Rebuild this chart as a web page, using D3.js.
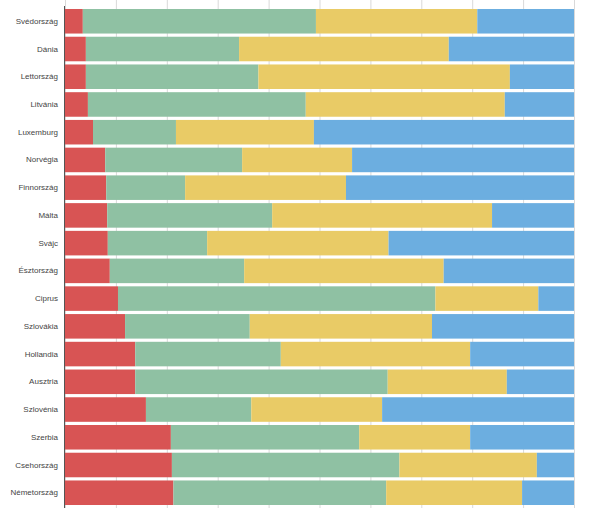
<!DOCTYPE html>
<html>
<head>
<meta charset="utf-8">
<script src="https://cdn.jsdelivr.net/npm/d3@7"></script>
<style>
  html, body { margin: 0; padding: 0; background: #fff; }
  svg { display: block; }
</style>
</head>
<body>
<div id="chart"></div>
<script>
const categories = ["Svédország","Dánia","Lettország","Litvánia","Luxemburg","Norvégia","Finnország","Málta","Svájc","Észtország","Ciprus","Szlovákia","Hollandia","Ausztria","Szlovénia","Szerbia","Csehország","Németország"];
const seriesNames = ["A","B","C","D"];
const seriesRed    = [3.5, 4.1, 4.1, 4.5, 5.5, 7.9, 8.1, 8.3, 8.4, 8.8, 10.4, 11.8, 13.8, 13.8, 15.9, 20.8, 21.0, 21.3];
const seriesGreen  = [45.8, 30.1, 33.9, 42.8, 16.3, 26.9, 15.5, 32.4, 19.5, 26.4, 62.3, 24.5, 28.6, 49.6, 20.7, 37.0, 44.7, 41.8];
const seriesYellow = [31.7, 41.2, 49.4, 39.1, 27.1, 21.6, 31.6, 43.2, 35.6, 39.2, 20.2, 35.8, 37.2, 23.4, 25.7, 21.8, 27.0, 26.7];
const seriesBlue   = [19.0, 24.6, 12.6, 13.6, 51.1, 43.6, 44.8, 16.1, 36.4, 25.6, 7.0, 27.9, 20.4, 13.2, 37.7, 20.4, 7.3, 10.2];
const xTicks = [0,10,20,30,40,50,60,70,80,90,100];
const colors = ["#d85454", "#8fc1a3", "#e9cb66", "#6caee0"];

(function () {
const W = 607, H = 508;
const mLeft = 65, mRight = 574, mTop = 7.4, mBottom = 506.6;

const rows = categories.map((c, i) => {
  const vals = [seriesRed[i], seriesGreen[i], seriesYellow[i], seriesBlue[i]];
  const total = d3.sum(vals);
  const o = { cat: c };
  seriesNames.forEach((s, j) => o[s] = vals[j] / total * 100);
  return o;
});

const stack = d3.stack().keys(seriesNames)(rows);

const x = d3.scaleLinear().domain([0, 100]).range([mLeft, mRight]);
const y = d3.scaleBand().domain(categories).range([mTop, mBottom]).paddingInner(0.115).paddingOuter(0.0575);

const svg = d3.select("#chart").append("svg").attr("width", W).attr("height", H);

// gridlines
svg.append("g").selectAll("line").data(xTicks).join("line")
  .attr("x1", d => x(d) + 0.5).attr("x2", d => x(d) + 0.5)
  .attr("y1", 0).attr("y2", H)
  .attr("stroke", "#d9d9d9").attr("stroke-width", 1);

// bars
svg.append("g").selectAll("g").data(stack).join("g")
  .attr("fill", (d, i) => colors[i])
  .selectAll("rect").data(d => d).join("rect")
  .attr("x", d => x(d[0]))
  .attr("width", d => x(d[1]) - x(d[0]))
  .attr("y", d => y(d.data.cat))
  .attr("height", y.bandwidth());

// left axis
const yAxis = d3.axisLeft(y).tickSize(0).tickPadding(7);
const ga = svg.append("g").attr("transform", `translate(${mLeft},0)`).call(yAxis);
ga.select(".domain").remove();
ga.selectAll("text").attr("font-family", "Arial, 'Liberation Sans', sans-serif").attr("font-size", 8).attr("fill", "#444");
svg.append("line").attr("x1", mLeft - 0.5).attr("x2", mLeft - 0.5).attr("y1", 6).attr("y2", H)
  .attr("stroke", "#555").attr("stroke-width", 1);
})();
</script>
</body>
</html>
